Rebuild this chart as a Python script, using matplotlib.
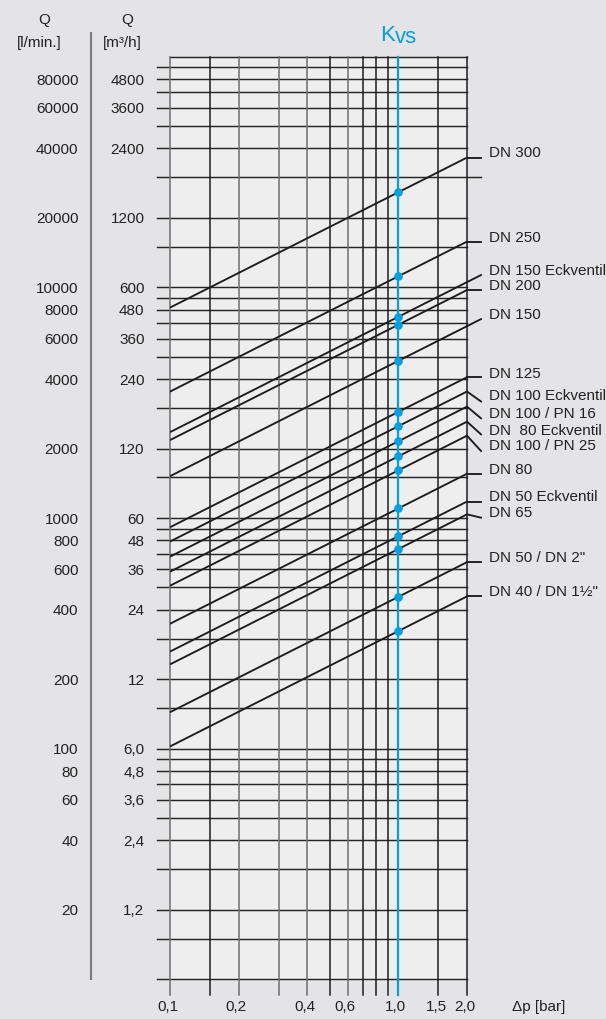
import numpy as np
import matplotlib
matplotlib.use("Agg")
import matplotlib.pyplot as plt
from matplotlib import font_manager

# prefer a narrow face, the original uses a condensed font
names = {f.name for f in font_manager.fontManager.ttflist}
NARROW = "Liberation Sans Narrow" in names
plt.rcParams['font.family'] = ['Liberation Sans Narrow' if NARROW else 'Liberation Sans', 'DejaVu Sans']
FS = 12.3 if NARROW else 11.0

# valve curves: Kvs in m3/h (flow at dp = 1 bar)
valves = ["DN 300", "DN 250", "DN 150 Eckventil", "DN 200", "DN 150", "DN 125",
          "DN 100 Eckventil", "DN 100 / PN 16", "DN  80 Eckventil", "DN 100 / PN 25",
          "DN 80", "DN 50 Eckventil", "DN 65", "DN 50 / DN 2\"", "DN 40 / DN 1\u00bd\""]
kvs = [1550, 670, 447, 413, 288, 173, 150, 129, 111, 96.5, 66, 50, 44, 27.3, 19.4]

# y axis ticks (m3/h) and the matching l/min labels
q_ticks = [4800, 3600, 2400, 1200, 600, 480, 360, 240, 120, 60, 48, 36, 24, 12,
           6.0, 4.8, 3.6, 2.4, 1.2]
q_m3h_labels = ["4800", "3600", "2400", "1200", "600", "480", "360", "240", "120",
                "60", "48", "36", "24", "12", "6,0", "4,8", "3,6", "2,4", "1,2"]
q_lmin_labels = ["80000", "60000", "40000", "20000", "10000", "8000", "6000", "4000",
                 "2000", "1000", "800", "600", "400", "200", "100", "80", "60", "40", "20"]
q_grid_steps = [1, 1.5, 2, 3, 4, 5, 6, 7, 8, 9]
q_min, q_max = 0.6, 6000

# x axis (pressure drop)
dp_grid = [0.1, 0.15, 0.2, 0.3, 0.4, 0.5, 0.6, 0.7, 0.8, 0.9, 1.0, 1.5, 2.0]
dp_grey = [0.1, 0.2, 0.3, 0.4, 0.6]
dp_ticks = [0.1, 0.2, 0.4, 0.6, 1.0, 1.5, 2.0]
dp_labels = ["0,1", "0,2", "0,4", "0,6", "1,0", "1,5", "2,0"]
dp_min, dp_max = 0.1, 2.0

# label layout next to the line ends (pixels, + = down); None = line continues
label_dy = [-5.7, -4.8, -12.9, -6, -12.8, -4.8, 3.2, 6.3, 7.5, 9.3, -5, -5.7, -2.7, -6, -5.7]
stub_dy = [0, 0, None, 0, None, 0, 10, 11.7, 12.7, 15.3, 0, 0, 3.3, 0, 0]

W, H = 606, 1019
BLUE = "#00a0e3"
INK = "#1c1c1c"
TXT = "#222222"
fig = plt.figure(figsize=(W / 100, H / 100), dpi=100, facecolor="#e4e4e6")
ax = fig.add_axes([170 / W, 1 - 979.3 / H, 297 / W, 922.6 / H])
ax.set_facecolor("#eeeeee")
ax.set_xscale("log")
ax.set_yscale("log")
ax.set_xlim(dp_min, dp_max)
ax.set_ylim(q_min, q_max)
ax.set_xticks([])
ax.set_yticks([])
ax.minorticks_off()
for s in ax.spines.values():
    s.set_visible(False)

# pixel scale of one decade on each axis
xdec = ax.transData.transform((1.0, 1))[0] - ax.transData.transform((0.1, 1))[0]
ydec = ax.transData.transform((1, 10.0))[1] - ax.transData.transform((1, 1.0))[1]
left_ext = -13 / 297
bottom_ext = -16 / 922.6
stub_px = 14

# horizontal grid
q_grid = [q_min * 10 ** k * m for k in range(4) for m in q_grid_steps]
ytr = ax.get_yaxis_transform()
for q in q_grid:
    x_right = 1 + stub_px / 297 if abs(q - 1800) < 1 else 1
    ax.plot([left_ext, x_right], [q, q], transform=ytr, color="#262626", lw=1.05,
            clip_on=False, zorder=1)
ax.plot([0, 1], [q_max, q_max], transform=ytr, color="#262626", lw=1.05, clip_on=False, zorder=1)

# vertical grid
xtr = ax.get_xaxis_transform()
for d in dp_grid:
    c = "#6e6e6e" if d in dp_grey else "#1e1e1e"
    ax.plot([d, d], [bottom_ext, 1], transform=xtr, color=c, lw=1.1, clip_on=False, zorder=1)

# Kvs line at dp = 1 bar
ax.plot([1.0, 1.0], [bottom_ext, 1], transform=xtr, color=BLUE, lw=1.6, clip_on=False, zorder=2)

# valve curves Q = Kvs * sqrt(dp)
x_line = np.array([dp_min, dp_max])
r = 10 ** (stub_px / xdec)
for name, k, ldy, sdy in zip(valves, kvs, label_dy, stub_dy):
    q_line = k * np.sqrt(x_line)
    ax.plot(x_line, q_line, color=INK, lw=1.35, zorder=3, solid_capstyle="butt")
    qe = q_line[-1]
    if sdy is None:
        x_s, q_s = dp_max * r, qe * np.sqrt(r)
    else:
        x_s, q_s = dp_max * r, qe * 10 ** (-sdy / ydec)
    ax.plot([dp_max, x_s], [qe, q_s], color=INK, lw=1.35, clip_on=False, zorder=3)
    ax.annotate(name, xy=(dp_max, qe), xytext=(22 * 0.72, -ldy * 0.72),
                textcoords="offset points", ha="left", va="center_baseline",
                fontsize=FS, color=TXT, annotation_clip=False)

ax.plot([1.0] * len(kvs), kvs, "o", color=BLUE, ms=6.2, mec="none", zorder=4, clip_on=False)

# y labels, two unit columns
ftr = matplotlib.transforms.blended_transform_factory(fig.transFigure, ax.transData)
for q, lm, lq in zip(q_ticks, q_lmin_labels, q_m3h_labels):
    fig.text(78.5 / W, q, lm, transform=ftr, ha="right", va="center_baseline",
             fontsize=FS, color=TXT)
    fig.text(144.5 / W, q, lq, transform=ftr, ha="right", va="center_baseline",
             fontsize=FS, color=TXT)

# x labels
for d, lab in zip(dp_ticks, dp_labels):
    ax.annotate(lab, xy=(d, 0), xycoords=xtr, xytext=(-2.5 * 0.72, -26.5 * 0.72),
                textcoords="offset points", ha="center", va="center_baseline",
                fontsize=FS, color=TXT, annotation_clip=False)
fig.text(512 / W, 1 - 1006 / H, "\u0394p [bar]", ha="left", va="center_baseline",
         fontsize=FS, color=TXT)

# headers
fig.text(43.8 / W, 1 - 18.3 / H, "Q", ha="center", va="center_baseline", fontsize=FS, color=TXT)
fig.text(127.5 / W, 1 - 18.3 / H, "Q", ha="center", va="center_baseline", fontsize=FS, color=TXT)
fig.text(39.2 / W, 1 - 41.7 / H, "[l/min.]", ha="center", va="center_baseline", fontsize=FS, color=TXT)
fig.text(122.8 / W, 1 - 41.7 / H, "[m\u00b3/h]", ha="center", va="center_baseline", fontsize=FS, color=TXT)
fig.add_artist(plt.Line2D([90.7 / W, 90.7 / W], [1 - 33.3 / H, 1 - 979.3 / H],
                          transform=fig.transFigure, color="#7a7a7a", lw=1.5))

# Kvs title
ax.annotate("K", xy=(1.0, 1), xycoords=xtr, xytext=(-3.5 * 0.72, 15.5 * 0.72),
            textcoords="offset points", ha="right", va="baseline", fontsize=FS * 1.45,
            color=BLUE, annotation_clip=False)
ax.annotate("vs", xy=(1.0, 1), xycoords=xtr, xytext=(-3.5 * 0.72, 14 * 0.72),
            textcoords="offset points", ha="left", va="baseline", fontsize=FS * 1.45,
            color=BLUE, annotation_clip=False)

fig.savefig("out.png", dpi=100, facecolor=fig.get_facecolor())
